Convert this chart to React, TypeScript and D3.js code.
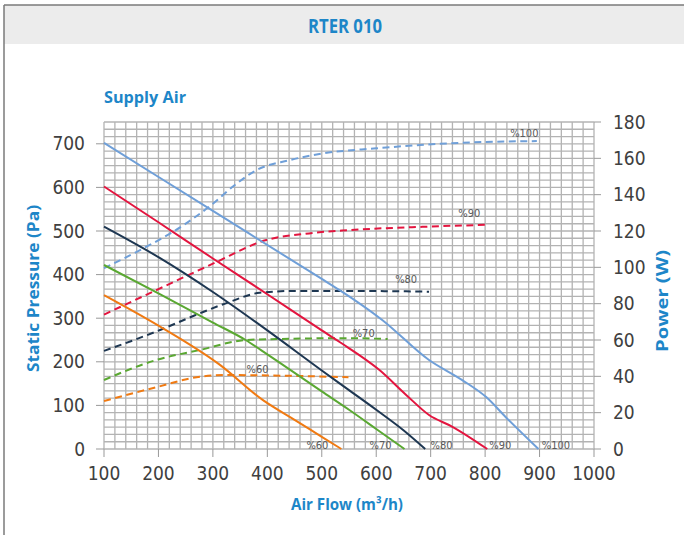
import React, { useEffect, useRef } from 'react';
import * as d3 from 'd3';

// static pressure curves (Pa) for each fan speed
const p100Flow = [100, 300, 500, 532, 611, 697, 758, 802, 838, 898];
const p100 = [702, 546, 390, 365, 296, 204, 158, 119, 73, 0];
const p90Flow = [100, 200, 300, 400, 500, 532, 606, 655, 697, 740, 804];
const p90 = [602, 520, 437, 355, 272, 246, 181, 124, 78, 51, 0];
const p80Flow = [100, 200, 300, 400, 500, 550, 600, 650, 690];
const p80 = [510, 440, 360, 272, 180, 135, 90, 43, 0];
const p70Flow = [100, 200, 300, 360, 400, 500, 550, 600, 652];
const p70 = [422, 357, 290, 250, 217, 132, 90, 46, 0];
const p60Flow = [100, 200, 313, 392, 450, 500, 536];
const p60 = [353, 283, 193, 112, 67, 28, 0];

// power curves (W)
const w100Flow = [100, 172, 227, 300, 343, 380, 441, 502, 600, 716, 800, 895];
const w100 = [99.5, 110.4, 119.6, 135, 146, 153.5, 159, 162.7, 165.5, 168, 169, 169.5];
const w90Flow = [100, 200, 300, 398, 470, 551, 685, 801];
const w90 = [74, 88, 102, 115, 118.5, 120.5, 122.3, 123.4];
const w80Flow = [100, 203, 276, 331, 386, 450, 551, 697];
const w80 = [54, 65.5, 74.7, 81, 86, 87, 87, 86.6];
const w70Flow = [100, 196, 276, 361, 416, 551, 621];
const w70 = [38, 49, 54.5, 60, 60.5, 61, 60.5];
const w60Flow = [100, 196, 276, 325, 400, 549];
const w60 = [26.4, 34, 39.8, 40.7, 40.5, 39.5];

const speedNames = ['%100', '%90', '%80', '%70', '%60'];
const speedColors = ['#6f9fd8', '#e3153f', '#1e3752', '#5aa832', '#f07a12'];
// label anchors: top labels sit on power scale, bottom ones on the flow axis
const topLabelFlow = [872, 771, 655, 577, 382];
const topLabelPower = [171.7, 127.7, 91.4, 61.6, 41.8];
const bottomLabelFlow = [930, 828, 720, 608, 492];

const flowTicks = [100, 200, 300, 400, 500, 600, 700, 800, 900, 1000];
const pressureTicks = [0, 100, 200, 300, 400, 500, 600, 700];
const powerTicks = [0, 20, 40, 60, 80, 100, 120, 140, 160, 180];

const W = 684;
const H = 535;
const BLUE = '#1d86c8';
const TXT = '#404040';
const GRID = '#b3b3b3';
const NUM_FONT = 'Liberation Sans Narrow, DejaVu Sans Condensed';

const zip = (xs: number[], ys: number[]) => xs.map((x, i) => [x, ys[i]] as [number, number]);

const App = () => {
  const ref = useRef<SVGSVGElement>(null);

  useEffect(() => {
    const svg = d3.select(ref.current);
    svg.selectAll('*').remove();

    const x = d3.scaleLinear().domain([100, 1000]).range([104, 594]);
    const yP = d3.scaleLinear().domain([0, 750]).range([449, 122]);
    const yW = d3.scaleLinear().domain([0, 180]).range([449, 122]);

    // frame + header band
    svg.append('rect').attr('x', 4).attr('y', 5).attr('width', W - 4).attr('height', 39).attr('fill', '#ececec');
    svg.append('line').attr('x1', 4).attr('x2', W).attr('y1', 5).attr('y2', 5).attr('stroke', '#7a7a7a').attr('stroke-width', 1.5);
    svg.append('line').attr('x1', 4).attr('x2', 4).attr('y1', 5).attr('y2', H).attr('stroke', '#7a7a7a').attr('stroke-width', 1.5);
    svg.append('text').attr('x', 345).attr('y', 33).attr('text-anchor', 'middle')
      .attr('font-family', 'Open Sans').attr('font-weight', 700).attr('font-size', 20)
      .attr('fill', BLUE).attr('textLength', 74).attr('lengthAdjust', 'spacingAndGlyphs').text('RTER 010');

    // grid: 45 x 45 cells
    const g = svg.append('g');
    d3.range(100, 1000.1, 20).forEach(v => {
      g.append('line').attr('x1', x(v)).attr('x2', x(v)).attr('y1', yP(750)).attr('y2', yP(0))
        .attr('stroke', GRID).attr('stroke-width', 1.3);
    });
    d3.range(0, 180.1, 4).forEach(v => {
      g.append('line').attr('x1', x(100)).attr('x2', x(1000)).attr('y1', yW(v)).attr('y2', yW(v))
        .attr('stroke', GRID).attr('stroke-width', 1.3);
    });

    // ticks
    pressureTicks.forEach(t => {
      g.append('line').attr('x1', x(100) - 8).attr('x2', x(100)).attr('y1', yP(t)).attr('y2', yP(t)).attr('stroke', '#999');
      g.append('text').attr('x', 85).attr('y', yP(t)).attr('dy', '0.35em').attr('text-anchor', 'end')
        .attr('font-family', NUM_FONT).attr('font-size', 19).attr('fill', TXT).text(t);
    });
    powerTicks.forEach(t => {
      g.append('line').attr('x1', x(1000)).attr('x2', x(1000) + 7).attr('y1', yW(t)).attr('y2', yW(t)).attr('stroke', '#999');
      g.append('text').attr('x', 613).attr('y', yW(t)).attr('dy', '0.35em').attr('text-anchor', 'start')
        .attr('font-family', NUM_FONT).attr('font-size', 19).attr('fill', TXT).text(t);
    });
    flowTicks.forEach(t => {
      g.append('line').attr('x1', x(t)).attr('x2', x(t)).attr('y1', yP(0)).attr('y2', yP(0) + 8).attr('stroke', '#999');
      g.append('text').attr('x', x(t)).attr('y', 480).attr('text-anchor', 'middle')
        .attr('font-family', NUM_FONT).attr('font-size', 19).attr('fill', TXT).text(t);
    });

    const lineP = d3.line<[number, number]>().x(d => x(d[0])).y(d => yP(d[1])).curve(d3.curveMonotoneX);
    const lineW = d3.line<[number, number]>().x(d => x(d[0])).y(d => yW(d[1])).curve(d3.curveMonotoneX);

    const pCurves = [zip(p100Flow, p100), zip(p90Flow, p90), zip(p80Flow, p80), zip(p70Flow, p70), zip(p60Flow, p60)];
    const wCurves = [zip(w100Flow, w100), zip(w90Flow, w90), zip(w80Flow, w80), zip(w70Flow, w70), zip(w60Flow, w60)];

    wCurves.forEach((c, i) => {
      svg.append('path').datum(c).attr('d', lineW).attr('fill', 'none')
        .attr('stroke', speedColors[i]).attr('stroke-width', 2).attr('stroke-dasharray', '7,4.5');
    });
    pCurves.forEach((c, i) => {
      svg.append('path').datum(c).attr('d', lineP).attr('fill', 'none')
        .attr('stroke', speedColors[i]).attr('stroke-width', 2);
    });

    speedNames.forEach((n, i) => {
      svg.append('text').attr('x', x(topLabelFlow[i])).attr('y', yW(topLabelPower[i])).attr('text-anchor', 'middle')
        .attr('font-family', 'DejaVu Sans Condensed').attr('font-size', 11).attr('fill', '#595959').text(n);
      svg.append('text').attr('x', x(bottomLabelFlow[i])).attr('y', yP(0)).attr('text-anchor', 'middle')
        .attr('font-family', 'DejaVu Sans Condensed').attr('font-size', 11).attr('fill', '#595959').text(n);
    });

    // titles
    const title = (sel: any, label: string, len: number) =>
      sel.attr('font-family', 'Open Sans').attr('font-weight', 700).attr('font-size', 16).attr('fill', BLUE)
        .attr('textLength', len).attr('lengthAdjust', 'spacingAndGlyphs').text(label);
    title(svg.append('text').attr('x', 104).attr('y', 103), 'Supply Air', 82);
    title(svg.append('text').attr('x', 291).attr('y', 510), 'Air Flow (m³/h)', 112);
    title(svg.append('text').attr('transform', 'translate(39,372) rotate(-90)'), 'Static Pressure (Pa)', 167);
    title(svg.append('text').attr('transform', 'translate(668,352) rotate(-90)'), 'Power (W)', 102);
  }, []);

  return (
    <svg ref={ref} width={W} height={H} style={{ position: 'absolute', left: 0, top: 0, background: '#fff' }} />
  );
};

export default App;
